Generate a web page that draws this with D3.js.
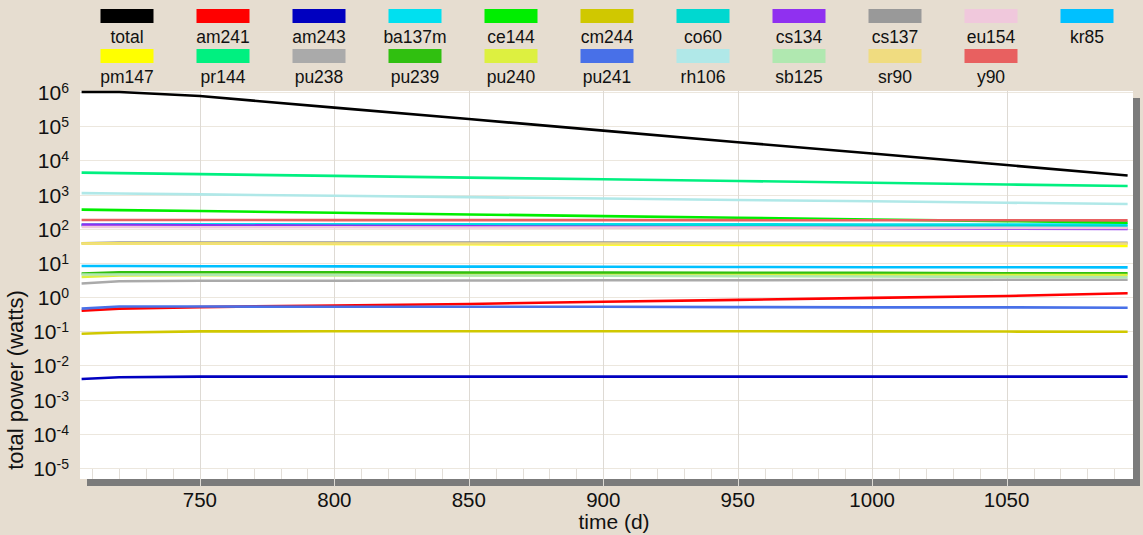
<!DOCTYPE html>
<html>
<head>
<meta charset="utf-8">
<script src="https://d3js.org/d3.v7.min.js"></script>
<style>
  body { margin: 0; background: #e6ddd0; }
  svg { display: block; font-family: "Liberation Sans", Arial, sans-serif; }
</style>
</head>
<body>
<svg width="1143" height="535"></svg>
<script>
// sample times (days)
var times = [706, 720, 750, 800, 850, 900, 950, 1000, 1050, 1095];

var names = ["total", "am241", "am243", "ba137m", "ce144", "cm244", "co60", "cs134", "cs137", "eu154", "kr85",
             "pm147", "pr144", "pu238", "pu239", "pu240", "pu241", "rh106", "sb125", "sr90", "y90"];
var colors = ["#000000", "#ff0000", "#0000c0", "#00e0f0", "#00ee00", "#d0c800", "#00d8d0", "#9030f0", "#999999", "#f0c8dc", "#00c0ff",
              "#ffff00", "#00f080", "#aaaaaa", "#30c010", "#ddf040", "#4870e8", "#b0e8e8", "#b0e8b0", "#f0dc80", "#e86060"];

// power (watts) of each nuclide at the sample times
var total  = [1.5e6, 1.0e6, 7.6e5, 3.5e5, 1.62e5, 7.4e4, 3.4e4, 1.58e4, 7.3e3, 3.6e3];
var am241  = [0.40, 0.46, 0.51, 0.57, 0.63, 0.73, 0.83, 0.95, 1.08, 1.29];
var am243  = [0.0040, 0.0045, 0.0047, 0.0047, 0.0047, 0.0047, 0.0047, 0.0047, 0.0047, 0.0047];
var ba137m = [130, 135, 135, 135, 134, 134, 134, 133, 133, 133];
var ce144  = [363, 351, 329, 294, 262, 234, 210, 187, 167, 151];
var cm244  = [0.085, 0.092, 0.099, 0.1, 0.1, 0.1, 0.1, 0.099, 0.098, 0.097];
var co60   = [126, 126, 125, 124, 123, 122, 121, 120, 119, 118];
var cs134  = [132, 130, 127, 122, 118, 113, 109, 105, 101, 98];
var cs137  = [37.5, 39.5, 39.5, 39.5, 39.3, 39.2, 39, 38.8, 38.6, 38.5];
var eu154  = [112, 112, 111, 110, 109, 108, 108, 107, 106, 105];
var kr85   = [8.1, 8.1, 8.0, 7.9, 7.8, 7.7, 7.6, 7.5, 7.45, 7.4];
var pm147  = [37, 37.2, 37, 36, 35, 34.5, 33.8, 33, 32.3, 31.6];
var pr144  = [4370, 4230, 3950, 3520, 3130, 2790, 2490, 2210, 1970, 1780];
var pu238  = [2.5, 2.9, 3.0, 3.0, 3.05, 3.1, 3.1, 3.15, 3.2, 3.2];
var pu239  = [4.9, 5.3, 5.3, 5.3, 5.2, 5.2, 5.1, 5.1, 5.0, 5.0];
var pu240  = [3.9, 4.3, 4.4, 4.4, 4.4, 4.4, 4.4, 4.4, 4.4, 4.4];
var pu241  = [0.46, 0.53, 0.53, 0.52, 0.52, 0.52, 0.51, 0.50, 0.50, 0.49];
var rh106  = [1100, 1075, 1010, 920, 838, 764, 695, 634, 577, 531];
var sb125  = [4.6, 4.6, 4.5, 4.4, 4.3, 4.2, 4.1, 4.0, 3.9, 3.8];
var sr90   = [37, 37, 37, 37, 37, 37, 36.9, 36.8, 36.7, 36.6];
var y90    = [180, 180, 180, 179, 179, 178, 178, 177, 177, 176];

var values = [total, am241, am243, ba137m, ce144, cm244, co60, cs134, cs137, eu154, kr85,
              pm147, pr144, pu238, pu239, pu240, pu241, rh106, sb125, sr90, y90];

var xTicks = [750, 800, 850, 900, 950, 1000, 1050];
var yExps = [6, 5, 4, 3, 2, 1, 0, -1, -2, -3, -4, -5];

function draw() {
    var svg = d3.select("svg");
    var pLeft = 80, pRight = 1133, pTop = 91, pBottom = 479;

    var x = d3.scaleLinear().domain([705.4, 1097]).range([pLeft, pRight]);
    var y = d3.scaleLog().domain([1e-5, 1e6]).range([468, 92]).clamp(true);

    // plot box with shadow
    svg.append("rect").attr("x", pLeft + 7).attr("y", pTop + 7)
        .attr("width", pRight - pLeft).attr("height", pBottom - pTop).attr("fill", "#7b7b7b");
    svg.append("rect").attr("x", pLeft).attr("y", pTop)
        .attr("width", pRight - pLeft).attr("height", pBottom - pTop).attr("fill", "#ffffff");

    // horizontal grid
    svg.append("g").selectAll("line").data(yExps).enter().append("line")
        .attr("x1", pLeft).attr("x2", pRight)
        .attr("y1", function(d) { return Math.round(y(Math.pow(10, d))) + 0.5; })
        .attr("y2", function(d) { return Math.round(y(Math.pow(10, d))) + 0.5; })
        .attr("stroke", "#ece7de").attr("stroke-width", 1);

    // minor ticks strip at the bottom
    var minor = d3.range(710, 1097, 10);
    svg.append("g").selectAll("line").data(minor).enter().append("line")
        .attr("x1", function(d) { return Math.round(x(d)) + 0.5; })
        .attr("x2", function(d) { return Math.round(x(d)) + 0.5; })
        .attr("y1", 469).attr("y2", pBottom)
        .attr("stroke", "#e2ded8");

    // vertical grid at major ticks
    svg.append("g").selectAll("line").data(xTicks).enter().append("line")
        .attr("x1", function(d) { return Math.round(x(d)) + 0.5; })
        .attr("x2", function(d) { return Math.round(x(d)) + 0.5; })
        .attr("y1", pTop).attr("y2", pBottom + 8)
        .attr("stroke", "#dedad4");

    // x tick labels
    svg.append("g").selectAll("text").data(xTicks).enter().append("text")
        .attr("x", function(d) { return x(d); })
        .attr("y", 507)
        .attr("text-anchor", "middle")
        .style("font-size", "20.5px")
        .attr("fill", "#111")
        .text(function(d) { return d; });

    // y tick labels 10^n
    var yl = svg.append("g").selectAll("text").data(yExps).enter().append("text")
        .attr("x", 69)
        .attr("y", function(d) { return y(Math.pow(10, d)) + 8; })
        .attr("text-anchor", "end")
        .attr("fill", "#111");
    yl.append("tspan").style("font-size", "21px").text("10");
    yl.append("tspan").style("font-size", "14px").attr("dy", -7)
        .text(function(d) { return d; });

    // axis titles
    svg.append("text").text("time (d)")
        .attr("x", 614).attr("y", 529)
        .attr("text-anchor", "middle")
        .style("font-size", "21px").attr("fill", "#111");
    svg.append("text").text("total power (watts)")
        .attr("transform", "translate(23,380) rotate(-90)")
        .attr("text-anchor", "middle")
        .style("font-size", "22px").attr("fill", "#111");

    // lines
    var line = d3.line()
        .x(function(d, i) { return x(times[i]); })
        .y(function(d) { return y(d); });

    var plot = svg.append("g");
    for (var i = 0; i < names.length; i++) {
        plot.append("path")
            .attr("d", line(values[i]))
            .attr("fill", "none")
            .attr("stroke", colors[i])
            .attr("stroke-width", 2.6);
    }

    // legend
    var legend = svg.append("g");
    for (var i = 0; i < names.length; i++) {
        var col = i % 11, row = Math.floor(i / 11);
        var cx = 127 + col * 96;
        legend.append("rect")
            .attr("x", cx - 26.5).attr("y", 9 + row * 40)
            .attr("width", 53).attr("height", 14)
            .attr("fill", colors[i]);
        legend.append("text").text(names[i])
            .attr("x", cx).attr("y", 43 + row * 40)
            .attr("text-anchor", "middle")
            .style("font-size", "17.5px")
            .attr("fill", "#111");
    }
}
draw();
</script>
</body>
</html>
